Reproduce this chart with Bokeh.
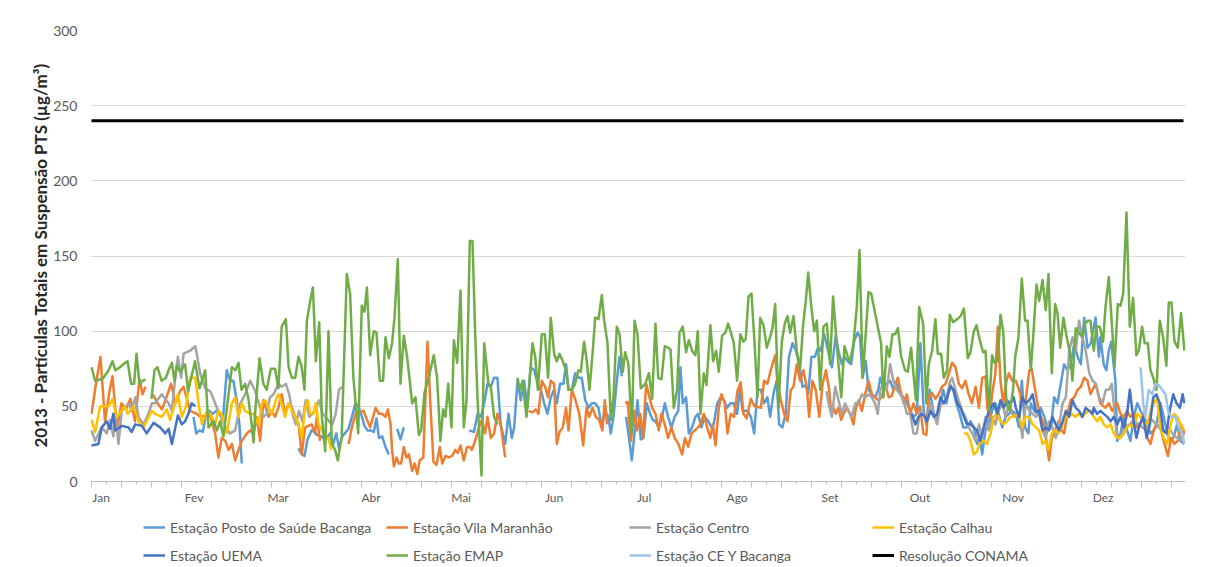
import numpy as np
from bokeh.plotting import figure
from bokeh.models import Range1d, FixedTicker, Legend, LegendItem, Span, Title
from bokeh.core.properties import value
from bokeh.embed import file_html
from bokeh.resources import INLINE

# ---------------- data (day of year 2013, value µg/m³); (None, None) = gap ----------------
meses = ["Jan", "Fev", "Mar", "Abr", "Mai", "Jun", "Jul", "Ago", "Set", "Out", "Nov", "Dez"]
dias_mes = [31, 28, 31, 30, 31, 30, 31, 31, 30, 31, 30, 31]
limite_conama = 240

posto = [(34,43),(34.9,32),(36,34),(37.1,33),(38.2,45),(39.3,47),(40.4,45),(41.6,47),(42.7,45),(43.8,41),(45.1,74),(46.2,67),(47.3,67),(48.4,54),(49.3,38),(50.1,12),(None,None),
 (69,22),(70.1,18),(71,17),(72,28),(73.4,34),(74.5,33),(75.1,31),(76.5,30),(78,28),(79.5,32),(80.6,25),(81.6,32),(82.5,22),(83.6,30),(85.7,35),(86.8,43),(88,52),(89,50),(90,44),(91,37),(92,34),(93,34),(94.1,33),(95,42),(95.8,29),(96.9,30),(98,23),(99.1,18),(None,None),
 (101.9,35),(103,28),(104.1,36),(None,None),
 (125.9,34),(127.5,33),(128.7,45),(129.8,43),(130.9,52),(132,65),(133.1,63),(134.2,69),(135.3,69),(136.4,38),(137.9,25),(139,45),(140.1,29),(140.9,36),(142,67),(143.1,54),(144.2,67),(145.3,49),(146.4,76),(147.6,74),(148.7,65),(149.8,61),(150.9,52),(152,45),(153.1,56),(154.2,61),(155.1,52),(156.2,65),(157.3,65),(158.2,78),(159,61),(160.1,61),(161.2,72),(162.3,69),(163.4,69),(164.6,54),(165.7,49),(166.8,52),(167.9,52),(169,49),(170.1,36),(171.2,47),(172.3,43),(173.1,32),(174,43),(175.1,67),(176,83),(176.8,70),(None,None),
 (178.2,43),(179.3,27),(180.1,14),(181.2,36),(182,54),(183.1,28),(184,29),(185.1,52),(186.2,45),(187.1,41),(188,40),(189.1,36),(190.2,43),(191.1,52),(192.2,43),(193.3,36),(194.4,43),(195.6,47),(196.3,76),(197.1,52),(198.2,56),(199.1,32),(200.2,36),(201.3,43),(202.2,45),(203.3,36),(204.4,43),(205.6,40),(206.7,36),(207.4,38),(208.6,52),(209.7,56),(210.8,54),(211.9,49),(213,52),(214.1,52),(215.2,45),(216.1,61),(217.1,47),(218.7,47),(219.8,43),(220.9,32),(222,61),(223.1,61),(224.2,52),(225.3,56),(226.2,43),(227.3,58),(228.4,67),(229.2,38),(230.3,36),(231.4,45),(232.5,83),(233.7,92),(234.8,87),(235.9,78),(237,63),(238.1,64),(238.9,58),(240,83),(241.1,83),(242.2,89),(243.1,87),(244.2,98),(245.3,89),(246.8,76),(248.1,97),(249,87),(250.1,78),(251,83),(252.1,80),(253.2,78),(254.3,94),(255.4,99),(256.2,96),(257,69),(258.1,80),(259,61),(260.1,58),(261.2,56),(262.3,61),(262.9,69),(264,63),(265.1,65),(266.2,67),(267.3,61),(268.4,65),(269.6,58),(270.7,56),(271.8,52),(272.9,47),(274,43),(275.1,45),(276.3,92),(277.4,47),(278.3,38),(279.4,61),(280.6,47),(281.7,40),(282.8,49),(283.9,61),(285,52),(286.1,65),(287.2,61),(288.3,52),(289.4,45),(290.6,36),(291.7,36),(293,40),(294.1,36),(295.2,25),(296.1,29),(296.9,18),(298,34),(299.1,40),(300.2,47),(301.3,52),(302.4,45),(303.6,36),(304.7,43),(305.8,45),(306.9,47),(308.1,45),(309.2,36),(310.1,67),(311.2,36),(312.3,32),(313.1,52),(314.2,47),(315.3,45),(316.4,49),(317.6,43),(318.7,36),(319.8,36),(320.9,56),(322,52),(323.1,65),(324.2,78),(325.3,74),(326.4,78),(327.6,92),(328.7,83),(329.8,78),(330.9,109),(332,89),(333.1,92),(334.7,109),(335.8,83),(336.3,96),(337.4,78),(338.3,74),(339.1,87),(339.9,93),(341.3,67),(341.9,27),(343,32),(344.1,43),(345.2,34),(346.3,27),(347.4,43),(348.6,52),(349.7,47),(350.8,43),(351.9,38),(353,32),(354.1,34),(355.2,40),(356.3,52),(357.4,43),(358.6,32),(359.7,27),(360.8,30),(361.9,38),(363,27),(364.3,25)]

vila = [(0,45),(1.5,65),(3,83),(4.5,40),(6,60),(7,70),(8.5,35),(10,52),(11.5,48),(13,55),(14.5,40),(16,68),(17,58),(18,63),(None,None),
 (20.5,58),(22,52),(23.5,48),(25,56),(26.5,65),(28,52),(29.5,60),(30.7,63),(32.9,47),(35.1,45),(36.2,43),(39.6,44),(41.2,32),(42.3,16),(43.4,29),(44.6,27),(45.7,21),(46.8,25),(47.9,14),(49,21),(50.1,27),(51.8,32),(52.9,34),(54,32),(55.1,43),(56.2,27),(57.3,54),(59,43),(60.1,47),(61.2,43),(62.3,49),(63.4,58),(64.5,45),(65.7,52),(66.8,49),(67.9,43),(69,38),(70.1,18),(71.2,36),(72.3,37),(73.4,38),(74.5,32),(75.1,43),(76.2,27),(None,None),
 (85.7,25),(86.8,36),(88,45),(89,46),(90.7,47),(91.8,41),(92.9,36),(94.7,49),(95.8,45),(96.9,45),(98,43),(98.8,48),(99.7,38),(100.2,21),(100.8,10),(101.7,16),(102.4,12),(103.2,12),(104.1,23),(105,16),(105.8,18),(106.9,7),(107.7,12),(108.6,5),(109.4,14),(110.6,16),(112,93),(113,50),(114,13),(115,11),(116.1,23),(116.9,12),(118,17),(119.1,16),(120.2,17),(121.3,21),(122.1,19),(123,24),(124.1,14),(125.2,23),(126.1,23),(126.8,21),(127.9,27),(129,35),(130.1,41),(131.2,32),(132,43),(133.1,29),(134.2,32),(135.3,45),(136.4,38),(137.9,16),(None,None),
 (145.7,47),(147,46),(148.1,48),(149,45),(150.1,67),(151.2,63),(152.2,56),(153.1,67),(154.2,65),(155.1,25),(156,33),(157.1,36),(158.2,49),(159,34),(160.1,61),(161.2,55),(162.6,45),(163.9,24),(165,49),(165.9,43),(167,49),(168.1,43),(169.2,41),(170.3,34),(171.1,54),(171.9,38),(None,None),
 (177.9,52),(178.7,53),(179.8,27),(180.9,47),(181.8,34),(182.9,45),(183.8,29),(184.9,65),(186,56),(186.9,49),(188,45),(189.1,34),(190,45),(191.1,38),(192.2,29),(193.3,36),(194.4,29),(195.6,25),(196.9,18),(197.8,29),(198.9,23),(200,32),(201.1,34),(202.2,36),(203,38),(204.1,45),(205.2,36),(206.3,29),(207.1,38),(208,24),(209.1,49),(210,58),(211.1,52),(212,32),(213.1,45),(214.2,43),(215.3,60),(216.4,66),(217.3,45),(218.4,42),(219.8,55),(221,50),(223.1,49),(224.2,67),(225.3,65),(226.4,74),(227.9,84),(228.7,65),(229.8,54),(230.9,45),(232,40),(233.1,61),(234,63),(235.1,78),(236.2,67),(237.3,74),(238.4,63),(239.2,43),(240.3,67),(241.4,61),(242.6,43),(243.7,65),(244.8,74),(245.9,61),(246.6,45),(247.3,49),(248.1,45),(249,49),(249.9,41),(250.7,45),(251.8,49),(252.9,45),(254,38),(254.8,49),(255.7,54),(256.8,47),(257.9,58),(259,67),(260.1,58),(261.2,56),(262.3,54),(263.4,56),(264.6,65),(265.7,56),(266.8,57),(267.9,65),(268.8,69),(269.6,61),(270.7,52),(271.8,58),(272.9,45),(274,52),(275.1,45),(276.2,50),(277.3,32),(278.3,31),(279.1,56),(280.2,59),(281.3,55),(282.4,58),(283.5,63),(284.7,65),(285.8,72),(286.9,79),(288,76),(289.1,65),(290.2,62),(291.3,67),(292.4,58),(293.5,52),(294.7,63),(295.8,49),(296.9,69),(298,70),(298.6,49),(299.4,43),(300.2,58),(301.3,72),(302.1,103),(303,67),(303.9,52),(305,67),(305.8,72),(306.9,67),(308.1,67),(309.2,61),(310.3,52),(311.4,54),(312.6,74),(313.4,75),(314.2,65),(315.3,52),(316.4,43),(317.6,38),(318.7,21),(319.2,14),(320.1,29),(321.2,34),(322.3,40),(323.4,34),(324.2,32),(325.3,45),(326.4,54),(327.6,56),(328.7,61),(329.8,63),(330.9,69),(332,67),(333,58),(334.7,65),(336.3,52),(338,49),(339.1,52),(340.2,47),(341.9,52),(343,45),(344.1,43),(345.2,47),(346.3,43),(347.4,45),(348.6,36),(349.7,38),(350.8,45),(351.9,29),(353,25),(354.1,34),(355.2,38),(356.3,36),(357.4,27),(358.8,17),(359.9,29),(361,25),(362.1,27),(363.2,38),(364.3,32)]

centro = [(0,34),(1.2,27),(3.4,36),(5.1,32),(6.2,41),(7.3,30),(7.9,45),(9,25),(10.1,47),(12.3,52),(13.4,47),(14.6,56),(15.7,43),(17.3,38),(19,45),(20.1,52),(21.2,52),(23.4,58),(25.7,52),(26.8,47),(27.7,65),(28.8,83),(29.9,69),(30.7,85),(32.9,87),(34.6,90),(35.1,85),(36.2,72),(37.9,62),(39.6,60),(41.2,52),(42.9,44),(44.6,36),(46.2,32),(47.9,34),(49.6,52),(51.2,58),(52.9,67),(54.6,60),(56.2,49),(57.3,43),(58.4,45),(59.5,56),(60.7,58),(62.3,65),(63.4,63),(64.8,65),(65.9,58),(67,45),(68.1,38),(69.2,47),(70.3,40),(71.4,54),(72.6,43),(73.7,45),(74.8,49),(75.9,54),(77,45),(78.1,43),(79.2,40),(80.3,38),(81.4,45),(82.5,61),(83.7,63),(None,None),
 (245,60),(245.7,52),(246.8,43),(247.9,63),(249,54),(250.1,45),(251.2,52),(252.3,47),(253.4,43),(254.6,52),(255.7,52),(256.8,58),(257.9,56),(259,58),(260.1,56),(261.2,52),(262.1,45),(262.9,61),(264,65),(265.1,61),(266.2,78),(267.3,67),(268.4,61),(269.6,58),(270.7,54),(271.8,45),(272.9,45),(274,32),(275.1,32),(276.2,47),(277.4,45),(278.5,40),(279.7,52),(280.8,45),(281.9,38),(283,52),(284.1,52),(285.2,58),(286.3,67),(286.9,69),(288,61),(289.1,54),(290.2,47),(291.3,43),(292.4,36),(293.6,32),(294.7,27),(295.8,38),(296.9,29),(298,43),(299.1,34),(300.2,43),(301.3,38),(302.4,47),(303.6,52),(304.7,43),(305.8,52),(306.9,45),(308.1,43),(309.2,45),(310.3,29),(311.4,52),(312.6,47),(313.7,45),(314.8,43),(315.9,45),(317,34),(318.1,29),(319.2,40),(320.3,36),(321.4,29),(322.6,38),(323.7,52),(324.8,56),(325.9,87),(327,96),(328.1,87),(329.2,107),(330.3,96),(331.4,87),(332.6,72),(333.7,67),(334.8,65),(335.9,56),(337,52),(338.1,61),(339.2,61),(340.1,65),(341.7,32),(342.8,29),(343.9,34),(345,36),(347,40),(349,38),(351,35),(353,42),(355,38),(357,33),(359,36),(361,30),(363,28),(364.3,32)]

calhau = [(0,41),(1.2,33),(2.9,50),(5.7,50),(7,55),(8.4,43),(10.1,47),(11.2,50),(12.1,45),(14,50),(15.7,40),(17.3,36),(20.1,47),(21.2,45),(23.4,43),(25.1,48),(26.2,41),(28.8,58),(30.1,43),(31.5,50),(32.9,69),(34.6,69),(35.7,52),(36.8,38),(38.4,47),(39.6,45),(41.2,38),(42.3,47),(43.4,45),(45.1,32),(46.8,52),(47.9,56),(49,43),(50.1,52),(51.2,47),(52.9,45),(54,45),(55.7,38),(56.8,52),(57.9,54),(59,49),(60.1,45),(61.8,56),(62.3,58),(63.4,52),(64.5,43),(65.7,52),(66.8,47),(67.9,43),(69,38),(70.1,29),(71.2,49),(72.1,54),(72.9,45),(74,45),(74.8,52),(75.7,38),(76.8,34),(77.9,29),(79,29),(79.9,21),(None,None),
 (290.8,32),(291.9,32),(293,27),(294.1,18),(295.2,20),(296.3,27),(297.4,27),(298.5,25),(299.7,32),(300.8,43),(301.9,45),(303,40),(304.1,38),(305.2,40),(306.3,43),(307.4,43),(308.6,45),(309.2,43),(310.3,36),(311.4,43),(312.6,43),(313.7,38),(314.8,36),(315.9,34),(317,25),(318.1,27),(319,21),(320.1,32),(321.2,34),(322.3,32),(323.4,36),(324.6,43),(325.7,43),(326.8,45),(327.9,43),(329,45),(330.1,43),(331.2,45),(332.3,47),(333,47),(334.1,43),(335.2,40),(336.3,43),(337.4,38),(338.6,36),(339.7,38),(340.8,32),(341.9,29),(343,29),(344.1,32),(345.2,36),(346.3,38),(347.4,36),(348.6,45),(349.7,43),(350.8,40),(351.9,38),(353,47),(354.1,52),(355.2,56),(356.3,36),(357.4,29),(358.6,25),(359.7,38),(360.8,45),(361.9,43),(363,38),(364.3,34)]

uema = [(0,24),(2.3,25),(3.4,36),(5.1,40),(6.2,35),(7.3,45),(7.9,34),(10.1,37),(12.3,36),(13.4,33),(14.6,38),(16.8,37),(18.4,32),(20.7,39),(22.9,36),(24.6,32),(25.7,35),(26.8,25),(28.8,44),(30.1,38),(31.2,40),(32.3,45),(33.4,52),(34.6,50),(None,None),
 (273.4,45),(274.6,38),(275.7,43),(276.8,45),(277.9,43),(278.5,40),(279.7,47),(280.8,43),(281.9,45),(283,56),(284.1,52),(285.2,56),(286.3,63),(287.4,61),(288.6,52),(289.7,49),(290.8,43),(291.9,38),(293,38),(294.1,36),(295.2,34),(296.3,27),(297.4,36),(298.5,43),(299.7,49),(300.8,52),(301.9,45),(303,54),(304.1,49),(305.2,54),(306.3,52),(307.4,56),(308.1,49),(309.2,43),(310.3,56),(311.4,52),(312.6,54),(313.7,58),(314.8,47),(315.9,47),(317,34),(318.1,36),(319.2,34),(320.3,43),(321.4,38),(322.6,34),(323.7,40),(324.8,47),(325.9,43),(327,54),(328.1,49),(329.2,47),(330.3,43),(331.4,49),(332.6,47),(333.7,45),(334.1,49),(335.2,45),(336.3,47),(337.4,45),(338.6,43),(339.7,40),(340.8,43),(341.9,38),(343,43),(344.1,36),(345.2,45),(346.1,61),(347.2,43),(348.3,29),(349.4,38),(350.6,43),(351.7,29),(352.8,38),(353.9,56),(355,58),(356.1,52),(357.2,34),(358.3,32),(359.4,47),(360.6,58),(361.7,52),(362.8,49),(363.7,58),(364.3,52)]

emap = [(0,76),(1.2,67),(3,68),(4,69),(5.7,74),(7,80),(8,74),(9.5,76),(11.2,79),(12,80),(13.2,65),(14.2,65),(15,85),(16,65),(17,67),(18,68),(None,None),
 (20,55),(21,74),(22,76),(23.4,67),(24.8,69),(25.7,74),(26.8,79),(27.7,67),(28.4,77),(29.6,73),(31.2,78),(32.2,60),(34.5,80),(36,62),(37.9,74),(39,36),(40.7,40),(41.8,34),(42.9,40),(44,30),(45.2,50),(46.8,76),(48,74),(49,79),(50,61),(51.2,65),(52.3,55),(53.4,38),(54,26),(54.6,47),(56,82),(57.3,65),(58.4,61),(59.8,75),(61.2,75),(62.3,62),(63.4,103),(64.8,108),(65.7,76),(66.8,69),(67.9,69),(69,83),(70.1,76),(71,61),(71.8,107),(72.9,120),(73.8,129),(74.8,80),(75.9,106),(76.8,43),(77.9,20),(79,100),(80.1,25),(81.2,21),(82.1,14),(83.4,30),(85.1,138),(86.2,125),(87.3,69),(88.9,32),(90.1,117),(91,113),(91.8,129),(92.9,84),(94.1,100),(95,99),(96.1,67),(97.2,67),(98,96),(99.1,82),(100.2,92),(101,109),(102.1,148),(103,65),(104.1,97),(105.2,83),(106.9,52),(108,56),(109.1,31),(109.9,34),(111,59),(112.4,69),(114.1,84),(115.2,69),(116.3,27),(117.2,48),(118,43),(118.9,65),(120,36),(120.8,94),(121.9,79),(123,127),(124.1,36),(125,54),(126.1,160),(127,160),(127.9,98),(128.7,54),(130,4),(130.9,92),(132.3,65),(133.1,63),(134.2,43),(135.3,38),(None,None),
 (142,69),(142.8,61),(143.7,67),(145,43),(145.9,65),(147,92),(147.9,83),(148.8,61),(150.1,98),(151.1,98),(152.2,69),(153.1,109),(154.2,85),(155.1,80),(156,85),(157.1,80),(158.2,74),(159,61),(160.1,61),(161.2,65),(162.3,74),(163.1,73),(164.2,93),(165.1,80),(166,61),(167.1,87),(167.9,109),(169,108),(170.1,124),(170.9,107),(172,92),(173.1,41),(174,56),(175.1,103),(176,98),(177.1,73),(177.9,86),(179,78),(180.1,32),(181,107),(182,98),(183.1,62),(184.6,65),(185.8,72),(186.9,55),(188,105),(188.9,69),(190,68),(191.1,90),(192.2,89),(193,88),(194.1,49),(195.2,61),(196,99),(197.1,103),(198.2,86),(199.1,94),(200.2,87),(201.3,84),(202.1,100),(203,45),(204.1,72),(205,64),(206.3,104),(207.2,80),(208.2,87),(209.1,73),(210.2,97),(211.3,99),(212.2,105),(213.3,98),(214.1,92),(215.2,67),(216.3,98),(217.3,93),(218.1,95),(219,123),(220,125),(220.9,96),(222,56),(222.9,109),(224,104),(225.1,89),(226.2,96),(227,102),(227.9,118),(229,49),(230.1,93),(231.1,105),(232,110),(232.9,99),(234,110),(235.1,87),(236.2,75),(237.2,104),(238.1,120),(238.9,139),(240,115),(240.9,100),(241.8,107),(242.9,61),(244,103),(245.1,105),(246.2,78),(247.2,123),(248.4,92),(249.9,56),(251,90),(252.1,83),(252.9,80),(254,92),(255.1,116),(256,154),(257.1,69),(259,126),(259.9,125),(261,114),(262.1,103),(263.2,92),(264,56),(265.1,90),(266,83),(267,98),(267.9,98),(268.8,102),(269.9,83),(271.2,74),(272.1,73),(273.2,89),(274.8,54),(275.9,116),(277.2,105),(278.3,52),(279.1,78),(280.2,87),(281.3,108),(282.1,85),(283.2,85),(284.1,69),(285.2,74),(286.1,111),(287.2,106),(288.6,108),(289.7,110),(290.8,115),(292.1,82),(293,86),(294.1,100),(295,104),(296.1,94),(297.2,86),(298,87),(299.1,47),(300.2,84),(301,79),(302.1,80),(303,111),(303.9,100),(305,52),(306.1,47),(307.2,61),(307.9,83),(309,96),(310.1,135),(311.2,107),(312,107),(313.1,74),(313.9,96),(315,131),(315.9,120),(317,134),(318.1,114),(319,138),(320.1,72),(321.2,118),(322,112),(322.9,89),(324,109),(325,97),(326.1,86),(327,67),(328.1,102),(329.2,99),(330.3,96),(331.2,105),(332.1,107),(333,107),(334.1,87),(335,103),(336.1,103),(337.2,93),(338,116),(339.1,136),(339.9,112),(341,76),(342.1,118),(343,117),(343.9,125),(345,179),(346.1,103),(347.2,122),(348.3,84),(349.1,87),(350.2,103),(351.1,92),(352.1,92),(353,74),(353.9,69),(355,61),(356.1,107),(357.2,96),(358.3,77),(359.1,119),(360,119),(361,93),(362.1,89),(363.2,112),(364.3,87)]

cey = [(349.7,76),(350.6,52),(351.3,43),(352.4,61),(353.6,58),(354.7,65),(355.8,64),(356.9,61),(358,58),(359.1,45),(360.2,43),(361.3,43),(362.4,36),(363.6,32),(364.3,25)]

series = [
    ("Estação Posto de Saúde Bacanga", posto, "#5B9BD5"),
    ("Estação Vila Maranhão", vila, "#ED7D31"),
    ("Estação Centro", centro, "#A5A5A5"),
    ("Estação Calhau", calhau, "#FFC000"),
    ("Estação UEMA", uema, "#4472C4"),
    ("Estação EMAP", emap, "#70AD47"),
    ("Estação CE Y Bacanga", cey, "#9DC3E6"),
]

FONT = "Lato"
TXT = "#595959"

# ---------------- layout ----------------
W, H = 1196, 567
TOP, LEFT, RIGHT = 30, 90, 11
PLOT_H = 451                    # pixels from value 0 to value 300
FRAME_H = H - TOP               # frame runs to the bottom so the legend can live inside it
Y_MAX = 300
Y_MIN = -Y_MAX * (FRAME_H - PLOT_H) / PLOT_H
PX_PER_UNIT = PLOT_H / Y_MAX

p = figure(width=W, height=H, output_backend="svg", toolbar_location=None,
           x_range=Range1d(-0.33, 364.67), y_range=Range1d(Y_MIN, Y_MAX),
           min_border_left=LEFT, min_border_right=RIGHT, min_border_top=TOP, min_border_bottom=0)
p.outline_line_color = None
p.background_fill_color = "white"
p.border_fill_color = "white"
p.xaxis.visible = False

# grid
p.xgrid.visible = False
p.ygrid.grid_line_color = "#D9D9D9"
p.ygrid.grid_line_width = 1

# y axis
p.yaxis.ticker = FixedTicker(ticks=list(range(0, 301, 50)), minor_ticks=[])
p.yaxis.bounds = (0, Y_MAX)
p.yaxis.axis_line_color = None
p.yaxis.major_tick_line_color = None
p.yaxis.minor_tick_line_color = None
p.yaxis.major_tick_out = 0
p.yaxis.major_tick_in = 0
p.yaxis.major_label_standoff = 13
p.yaxis.major_label_text_font = FONT
p.yaxis.major_label_text_font_size = "14px"
p.yaxis.major_label_text_color = TXT

# axis title centred on the 0-300 part of the frame (offset measured from the frame bottom)
titulo_y = Title(text="2013 - Partículas Totais em Suspensão PTS (µg/m³)", align="left",
                 offset=(FRAME_H - PLOT_H) + 34, standoff=0,
                 text_font=FONT, text_font_style="bold", text_font_size="17px",
                 text_color="#262626")
p.add_layout(titulo_y, "left")

# x axis drawn at value 0: line, ticks every 5 days (longer every 10), month labels
p.add_layout(Span(location=0, dimension="width", line_color="#BFBFBF", line_width=1))
t_long = list(range(0, 366, 10))
t_short = list(range(5, 366, 10))
p.segment(x0=t_long, y0=[0] * len(t_long), x1=t_long, y1=[-6 / PX_PER_UNIT] * len(t_long),
          line_color="#BFBFBF", line_width=1)
p.segment(x0=t_short, y0=[0] * len(t_short), x1=t_short, y1=[-3 / PX_PER_UNIT] * len(t_short),
          line_color="#BFBFBF", line_width=1)
inicio = np.concatenate([[0], np.cumsum(dias_mes)[:-1]])
pos_rotulo = [float(d) + 3.2 for d in inicio]
p.text(x=pos_rotulo, y=[0] * len(meses), text=meses, y_offset=16,
       text_align="center", text_baseline="middle",
       text_font=value(FONT), text_font_size="12px", text_color=TXT)

items = []
for nome, dados, cor in series:
    d = np.array([a for a, b in dados], dtype=float)
    v = np.array([b for a, b in dados], dtype=float)
    r = p.line(x=d, y=v, line_color=cor, line_width=2.5, line_join="round")
    items.append(LegendItem(label=nome, renderers=[r]))

dias_ano = np.arange(0, sum(dias_mes))
r_con = p.line(x=dias_ano, y=np.full(len(dias_ano), limite_conama, dtype=float),
               line_color="black", line_width=3)
items.append(LegendItem(label="Resolução CONAMA", renderers=[r_con]))

for linha, fundo in ((items[:4], 30), (items[4:], 2)):
    leg = Legend(items=linha, location=(53, fundo), orientation="horizontal",
                 glyph_width=22, glyph_height=20, label_height=20, label_width=211,
                 label_standoff=5, spacing=5, padding=0, margin=0,
                 border_line_color=None, background_fill_alpha=0,
                 label_text_font=FONT, label_text_font_size="14px", label_text_color=TXT)
    p.add_layout(leg, "center")

open("out.html", "w").write(file_html(p, INLINE))
